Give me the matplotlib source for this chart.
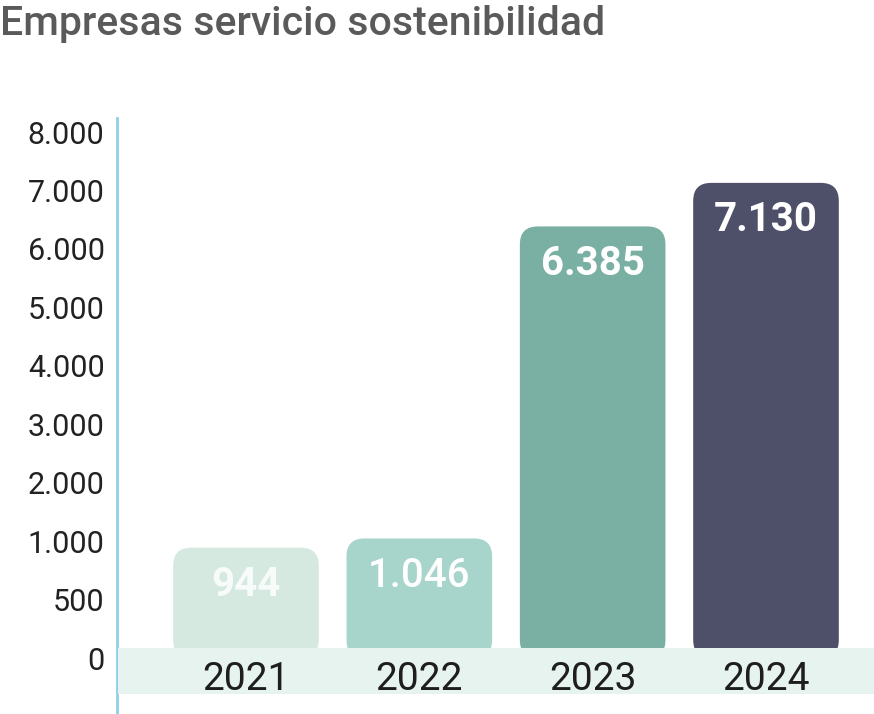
import numpy as np
import matplotlib
matplotlib.use("Agg")
import matplotlib.pyplot as plt
from matplotlib.patches import FancyBboxPatch, Rectangle

# ---- data ----
years = ["2021", "2022", "2023", "2024"]
values = [944, 1046, 6385, 7130]
ytick_values = [0, 500, 1000, 2000, 3000, 4000, 5000, 6000, 7000, 8000]
title = "Empresas servicio sostenibilidad"

# ---- styles ----
bar_colors = ["#d5e9e1", "#a8d5cb", "#7ab0a4", "#4e4f69"]
label_weights = ["bold", "medium", "bold", "bold"]
label_colors = ["#f7fbf9", "white", "white", "white"]

plt.rcParams["font.family"] = ["Roboto", "DejaVu Sans"]

W, H, DPI = 874, 714, 100
fig = plt.figure(figsize=(W / DPI, H / DPI), dpi=DPI)
ax = fig.add_axes([117 / W, 0, (W - 117) / W, (H - 118) / H])
ax.set_zorder(2.5)


# evenly spaced tick scale as in the reference (0, 500, 1000, 2000, ...)
def fwd(v):
    v = np.asarray(v, dtype=float)
    return np.where(v < 1000, v / 500.0, 1.0 + v / 1000.0)


def inv(u):
    u = np.asarray(u, dtype=float)
    return np.where(u < 2, u * 500.0, (u - 1.0) * 1000.0)


ax.set_yscale("function", functions=(fwd, inv))
ax.set_ylim(float(inv(-0.958)), float(inv(9.24)))
x = np.arange(len(years))
ax.set_xlim(-0.744, len(years) - 1 + 0.623)

ax.set_yticks(ytick_values)
ax.set_yticklabels([f"{v:,}".replace(",", ".") for v in ytick_values])
ax.yaxis.set_minor_locator(matplotlib.ticker.NullLocator())
ax.tick_params(axis="y", length=0, pad=9, labelsize=22, labelcolor="#222222")
ax.set_xticks([])
for s in ["top", "right", "bottom"]:
    ax.spines[s].set_visible(False)
ax.spines["left"].set_color("#8fd0e6")
ax.spines["left"].set_linewidth(2)
ax.patch.set_visible(False)

# invisible bars to get geometry from the axes
bars = ax.bar(x, values, width=0.84, color="none", edgecolor="none")

# band at the base
band_top_px, band_bot_px = H - 648, H - 694
band = Rectangle((117 / W + 0.001, band_bot_px / H), 1, (band_top_px - band_bot_px) / H,
                 transform=fig.transFigure, facecolor="#e7f3ee", edgecolor="none", zorder=3)
fig.patches.append(band)

r = 18
for b, c in zip(bars, bar_colors):
    x0, y0 = ax.transData.transform((b.get_x(), 0))
    x1, y1 = ax.transData.transform((b.get_x() + b.get_width(), b.get_height()))
    p = FancyBboxPatch((x0, y0), x1 - x0, y1 - y0,
                       boxstyle=f"round,pad=0,rounding_size={r}",
                       transform=None, facecolor=c, edgecolor="none", zorder=2)
    fig.patches.append(p)

for xi, v, w, lc in zip(x, values, label_weights, label_colors):
    ax.annotate(f"{v:,}".replace(",", "."), xy=(xi, v), xytext=(0, -27),
                textcoords="offset points", ha="center", va="center",
                fontsize=29, fontweight=w, color=lc, zorder=4)

for xi, yr in zip(x, years):
    t = fig.text(ax.transData.transform((xi, 0))[0] / W, (H - 680) / H, yr,
                 ha="center", va="center", fontsize=28, color="#1e1e1e", zorder=5)
    t.set_clip_path(band)

fig.text(0.0, 1 - 35 / H, title, ha="left", va="baseline", fontsize=29.5,
         fontweight="medium", color="#5a5a5a")

fig.savefig("out.png", dpi=DPI)
